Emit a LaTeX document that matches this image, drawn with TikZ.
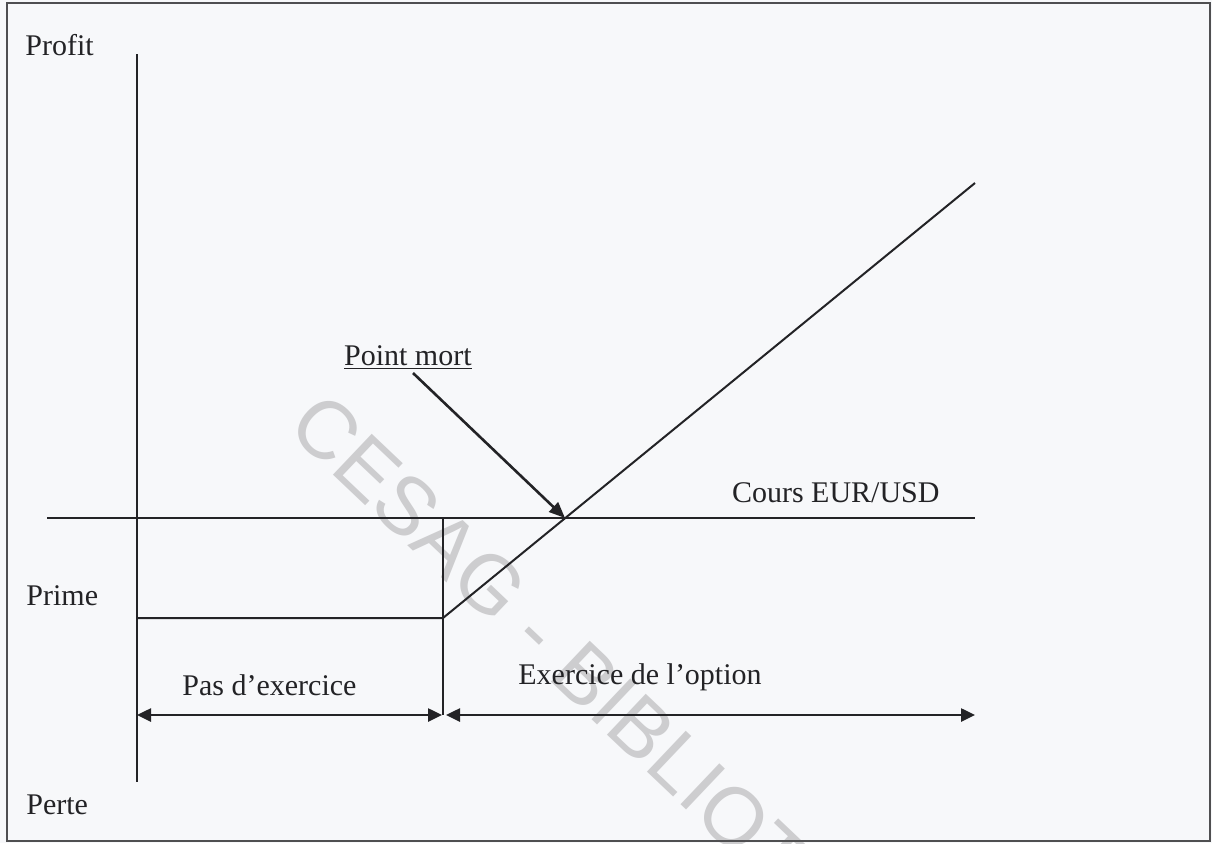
\documentclass[tikz,border=0pt]{standalone}
\usepackage{fontspec}
\setmainfont{Liberation Serif}
\newfontfamily\wmfont{Liberation Sans}
\usetikzlibrary{arrows.meta}
\definecolor{paper}{RGB}{247,248,250}
\definecolor{ink}{RGB}{35,35,38}
\definecolor{wmgray}{RGB}{205,205,207}
\begin{document}
\begin{tikzpicture}[x=0.5pt,y=-0.5pt,
  axis/.style={line width=1pt, draw=ink},
  dimline/.style={line width=1.3pt, draw=ink,
    {Triangle[length=7pt,width=6.5pt]}-{Triangle[length=7pt,width=6.5pt]}},
  lbl/.style={inner sep=0pt, text=ink, font=\fontsize{15}{18}\selectfont},
  watermark/.style={inner sep=0pt, text=wmgray, font=\wmfont\fontsize{41}{45}\selectfont}]

% page and frame
\useasboundingbox (0,0) rectangle (1212,843);
\fill[paper] (0,0) rectangle (1212,843);

% watermark, behind the chart
\begin{scope}
  \clip (0,0) rectangle (1212,843);
  \node[watermark, anchor=base west, rotate=-43.5] (wm) at (285,429) {CESAG - BIBLIOTHEQUE};
\end{scope}

\draw[line width=1.2pt, draw=ink!80] (7,3) rectangle (1210,841);

% key points
\coordinate (ytop) at (137,54);
\coordinate (ybot) at (137,782);
\coordinate (xl) at (47,518);
\coordinate (xr) at (975,518);
\coordinate (pa) at (137,618);
\coordinate (strike) at (443,618);
\coordinate (strtop) at (443,518);
\coordinate (strbot) at (443,715);
\coordinate (be) at (565,518);
\coordinate (end) at (975,183);
\coordinate (dl) at (137,715);
\coordinate (dm1) at (442,715);
\coordinate (dm2) at (446,715);
\coordinate (dr) at (975,715);
\coordinate (pmstart) at (413,373);

% axes
\draw[axis] (ytop) -- (ybot);
\draw[axis] (xl) -- (xr);

% payoff of the call
\draw[axis] (pa) -- (strike) -- (end);
\draw[axis] (strtop) -- (strbot);

% ranges
\draw[dimline] (dl) -- (dm1);
\draw[dimline] (dm2) -- (dr);

% labels
\node[lbl, anchor=base west] (profit) at (25,55) {Profit};
\node[lbl, anchor=base west] (prime) at (26,605) {Prime};
\node[lbl, anchor=base west] (perte) at (26,814) {Perte};
\node[lbl, anchor=base east] (cours) at (940,502) {Cours EUR/USD};
\node[lbl, anchor=base west] (pas) at (182,695) {Pas d’exercice};
\node[lbl, anchor=base west] (exer) at (518,684) {Exercice de l’option};
\node[lbl, anchor=base east] (pm) at (472,365) {\underline{Point mort}};

% break-even pointer
\draw[line width=1.3pt, draw=ink, -{Triangle[length=8pt,width=6.5pt]}] (pmstart) -- (be);
\end{tikzpicture}
\end{document}
